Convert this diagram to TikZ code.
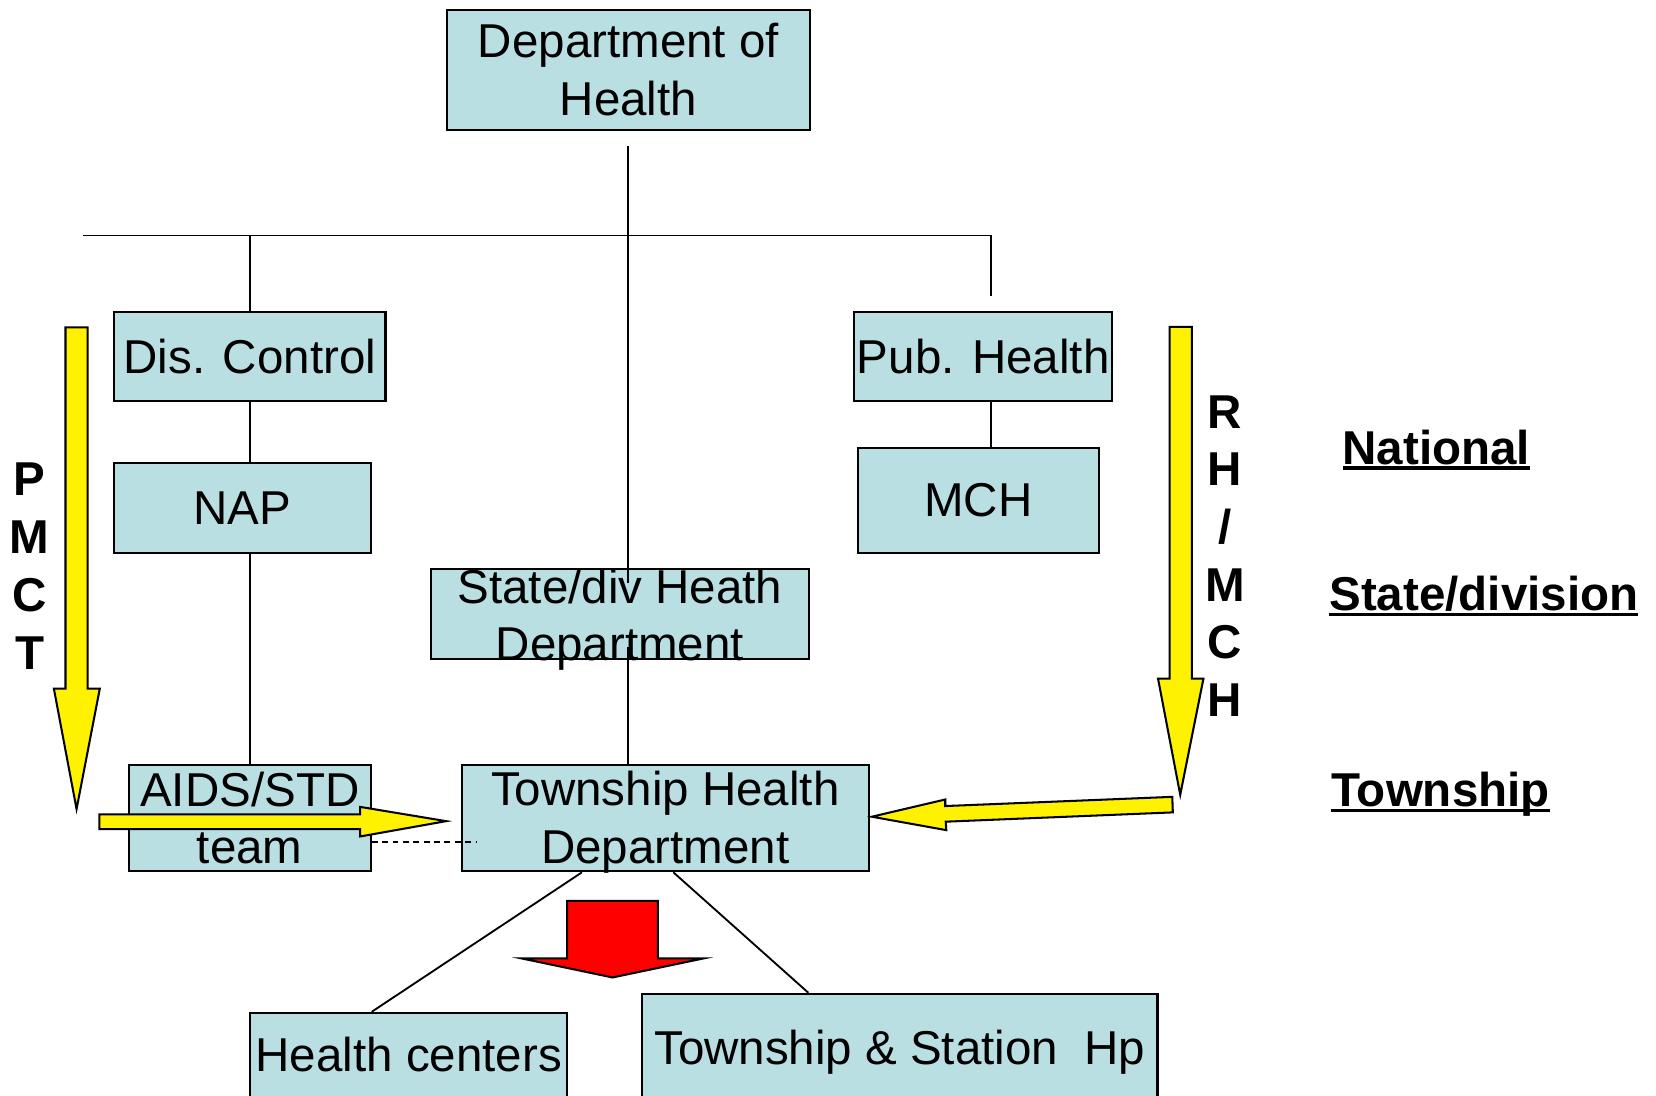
\documentclass[tikz,border=0pt]{standalone}
\usepackage{fontspec}
\setmainfont{Liberation Sans}
\usetikzlibrary{calc}

\definecolor{boxfill}{RGB}{186,223,226}
\newcommand{\chartfont}{\fontsize{12.8}{15.55}\selectfont}
\newcommand{\lvlul}[1]{\setbox0=\hbox{#1}\rlap{\rule[-1.5pt]{\wd0}{0.9pt}}\box0}

\tikzset{
	unitbox/.style={draw, fill=boxfill, line width=0.55pt, inner sep=0pt, align=center},
	link/.style={line width=0.5pt},
	yarrow/.style={fill=yellow, draw=black, line width=0.55pt, line join=miter},
	rarrow/.style={fill=red, draw=black, line width=0.55pt, line join=miter},
	lvltext/.style={anchor=base, inner sep=0pt, font=\chartfont\bfseries},
	vletters/.style={align=center, inner sep=0pt, font=\chartfont\bfseries},
}

\begin{document}
\begin{tikzpicture}[x=0.1mm, y=-0.1mm, font=\chartfont]
	\useasboundingbox (0, 0) rectangle (1568, 1037);
	\clip (0, 0) rectangle (1568, 1037);

	\draw node[unitbox, minimum width=34.4mm, minimum height=11.4mm] at (595, 66) (doh) {Department of\\Health};
	\draw node[unitbox, minimum width=25.7mm, minimum height=8.5mm] at (236.5, 337.5) (dis) {Dis. Control};
	\draw node[unitbox, minimum width=24.3mm, minimum height=8.6mm] at (229.5, 481) (nap) {NAP};
	\draw node[unitbox, minimum width=24.4mm, minimum height=8.5mm] at (931, 337.5) (pub) {Pub. Health};
	\draw node[unitbox, minimum width=22.9mm, minimum height=10mm] at (926.5, 474) (mch) {MCH};
	\draw node[unitbox, minimum width=35.8mm, minimum height=8.5mm,
		label={[align=center, yshift=-1.5pt]center:State/div Heath\\Department}] at (587, 581.5) (state) {};
	\draw node[unitbox, minimum width=22.9mm, minimum height=10.1mm] at (236.5, 774.5) (aids) {AIDS/STD\\team};
	\draw node[unitbox, minimum width=38.6mm, minimum height=10.1mm,
		label={[align=center, yshift=-1.2pt]center:Township Health\\Department}] at (630, 774.5) (thd) {};
	\draw node[unitbox, anchor=north, minimum width=30mm, text height=5.6mm, text depth=8mm] at (387, 958) (hc) {Health centers};
	\draw node[unitbox, anchor=north, minimum width=48.8mm, text height=6.7mm, text depth=8mm] at (852, 940) (tsh) {Township \& Station~~Hp};

	\draw node[lvltext] at (1360, 439.5) (national) {\lvlul{National}};
	\draw node[lvltext] at (1405, 578) (statediv) {\lvlul{State/division}};
	\draw node[lvltext] at (1364, 764) (township) {\lvlul{Township}};
	\draw node[vletters] at (28, 536) (pmct) {P\\M\\C\\T};
	\draw node[vletters] at (1160, 526.5) (rhmch) {R\\H\\/\\M\\C\\H};

	\coordinate (trunk) at (595, 138);
	\coordinate (busL) at (79, 223);
	\coordinate (busR) at (938, 223);

	\draw [link] (busL) -- (busR) -- ++(0, 57);
	\draw [link] (trunk) -- ($(trunk |- state.north) + (0, 14)$);
	\draw [link] (trunk |- thd.north) -- ($(trunk |- state.south) + (0, -12)$);
	\draw [link] (dis.north |- busL) -- (dis.north);
	\draw [link] (dis.south) -- (dis.south |- nap.north);
	\draw [link] (dis.south |- nap.south) -- (aids.north);
	\draw [link] (busR |- pub.south) -- (busR |- mch.north);
	\draw [link] ($(thd.south) + (-79, 0)$) -- ($(hc.north) + (-35, 0)$);
	\draw [link] ($(thd.south) + (7.6, 0)$) -- ($(tsh.north) + (-86.6, 0)$);
	\draw [link, dash pattern=on 1.6pt off 1.2pt] ($(aids.south east) + (0, -29)$) -- ++(100, 0);

	\filldraw [yarrow] (62, 310) -- (83, 310) -- (83, 652) -- (94.5, 652) -- (72.5, 766) -- (51, 652) -- (62, 652) -- cycle;
	\filldraw [yarrow] (94, 771) -- (341, 771) -- (341, 764) -- (422.5, 777.5) -- (341, 792) -- (341, 785) -- (94, 785) -- cycle;
	\filldraw [yarrow] (1107.5, 309.5) -- (1128.5, 309.5) -- (1128.5, 642.5) -- (1139.5, 642.5) -- (1117.5, 752.5) -- (1096.5, 642.5) -- (1107.5, 642.5) -- cycle;
	\filldraw [yarrow] (1110, 754.5) -- (895, 763.2) -- (895, 757) -- (825.5, 773.3) -- (896, 786) -- (895.5, 778) -- (1110.5, 769.2) -- cycle;
	\filldraw [rarrow] (537, 853) -- (623, 853) -- (623, 907.5) -- (666, 907.5) -- (580, 925.5) -- (494, 907.5) -- (537, 907.5) -- cycle;
\end{tikzpicture}
\end{document}
